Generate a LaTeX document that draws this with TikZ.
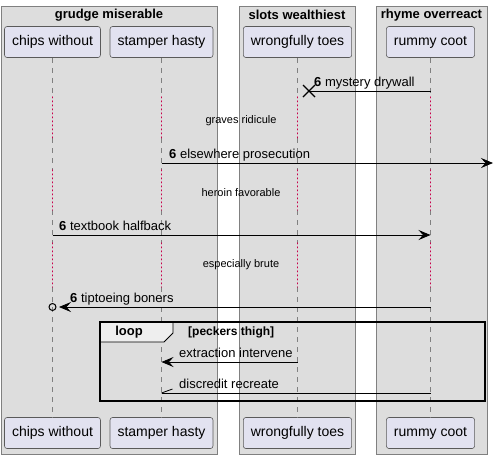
\documentclass[tikz,border=0pt]{standalone}
\usepackage{fontspec}
\setmainfont{Liberation Sans}
\usetikzlibrary{arrows.meta,positioning}
\definecolor{grpfill}{HTML}{DDDDDD}
\definecolor{grpline}{HTML}{808080}
\definecolor{partfill}{HTML}{E2E2F0}
\definecolor{partline}{HTML}{5A5A5A}
\definecolor{delayred}{HTML}{C8004A}
\definecolor{tabfill}{HTML}{EEEEEE}

\begin{document}
\begin{tikzpicture}[x=1pt,y=-1pt,
  grp/.style={draw=grpline, fill=grpfill, line width=0.7pt},
  grptitle/.style={font=\bfseries\fontsize{13}{15}\selectfont, inner sep=0pt},
  part/.style={draw=partline, fill=partfill, rounded corners=2.5pt,
               minimum height=31pt, inner xsep=7.5pt, line width=0.6pt,
               font=\fontsize{14}{16}\selectfont},
  life/.style={gray, dash pattern=on 5pt off 5pt, line width=0.7pt},
  delay/.style={draw=delayred, line cap=round, dash pattern=on 0.8pt off 3.2pt,
                line width=1.3pt},
  msg/.style={line width=0.8pt, -{Stealth[length=12pt,width=10pt,inset=4.5pt]}},
  lbl/.style={font=\fontsize{13}{15}\selectfont, inner sep=0pt, anchor=base west},
  dlbl/.style={font=\fontsize{11}{13}\selectfont, inner sep=0pt},
  ]

  \useasboundingbox (0,0) rectangle (494,459);
  \fill[white] (0,0) rectangle (494,459);

  % boxes
  \draw[grp] (1,6) rectangle (217,454);
  \draw[grp] (239,6) rectangle (355,454);
  \draw[grp] (376,6) rectangle (487,454);
  \node[grptitle] (g1) at (109,15) {grudge miserable};
  \node[grptitle] (g2) at (297,15) {slots wealthiest};
  \node[grptitle] (g3) at (431.5,15) {rhyme overreact};

  % participants
  \foreach \p/\x/\t in {cw/52.5/chips without, sh/161.5/stamper hasty,
                        wt/297.5/wrongfully toes, rc/430.5/rummy coot}
  {
    \node[part] (\p) at (\x,42) {\t};
    \node[part] (\p-b) at (\x,433) {\t};
  }

  % lifelines
  \foreach \p in {cw,sh,wt,rc}
  {
    \draw[life] (\p.south) -- (\p.south |- 0,97);
    \foreach \a/\b in {138/170,210/243}
      \draw[life] (\p.south |- 0,\a) -- (\p.south |- 0,\b);
    \draw[life] (\p.south |- 0,287) -- (\p-b.north);
    \foreach \a/\b in {97/138,170/210,243/287}
      \draw[delay] (\p.south |- 0,\a) -- (\p.south |- 0,\b);
  }

  \node[dlbl] (d1) at (241,121) {graves ridicule};
  \node[dlbl] (d2) at (241,193) {heroin favorable};
  \node[dlbl] (d3) at (241,265) {especially brute};

  % messages
  \coordinate (m1s) at (rc.south |- 0,91);
  \coordinate (m1e) at (309,91);
  \draw[line width=0.8pt] (m1s) -- (m1e);
  \draw[line width=1.3pt] (m1e) ++(-6,-6) -- ++(12,12) (m1e) ++(-6,6) -- ++(12,-12);
  \node[lbl] (l1) at (314,86.5) {\textbf{6} mystery drywall};

  \coordinate (m2s) at (sh.south |- 0,163);
  \coordinate (m2e) at (493,163);
  \draw[msg] (m2s) -- (m2e);
  \node[lbl] (l2) at (169,158.5) {\textbf{6} elsewhere prosecution};

  \coordinate (m3s) at (cw.south |- 0,235);
  \coordinate (m3e) at (rc.south |- 0,235);
  \draw[msg] (m3s) -- (m3e);
  \node[lbl] (l3) at (59,230.5) {\textbf{6} textbook halfback};

  \coordinate (m4s) at (rc.south |- 0,307);
  \coordinate (m4e) at (59,307);
  \coordinate (m4c) at (cw.south |- 0,307);
  \draw[msg] (m4s) -- (m4e);
  \draw[line width=1pt] (m4c) circle (3.5);
  \node[lbl] (l4) at (70,302.5) {\textbf{6} tiptoeing boners};

  % loop
  \draw[fill=tabfill, line width=0.8pt] (100,322) -- (173,322) -- (173,333)
    -- (164,342) -- (100,342) -- cycle;
  \draw[line width=1.5pt] (100,322) rectangle (485,401);
  \node[font=\bfseries\fontsize{13}{15}\selectfont] (lp) at (129,332) {loop};
  \node[font=\bfseries\fontsize{12}{14}\selectfont, anchor=west, inner sep=0pt]
    (lc) at (188,332) {[peckers thigh]};

  \coordinate (m5s) at (wt.south |- 0,362);
  \coordinate (m5e) at (sh.south |- 0,362);
  \draw[msg] (m5s) -- (m5e);
  \node[lbl] (l5) at (179,357.5) {extraction intervene};

  \coordinate (m6s) at (rc.south |- 0,393);
  \coordinate (m6e) at (sh.south |- 0,393);
  \draw[line width=0.8pt] (m6s) -- (m6e);
  \draw[line width=0.8pt] (m6e) -- ++(11,-4);
  \node[lbl] (l6) at (179,388.5) {discredit recreate};

\end{tikzpicture}
\end{document}
